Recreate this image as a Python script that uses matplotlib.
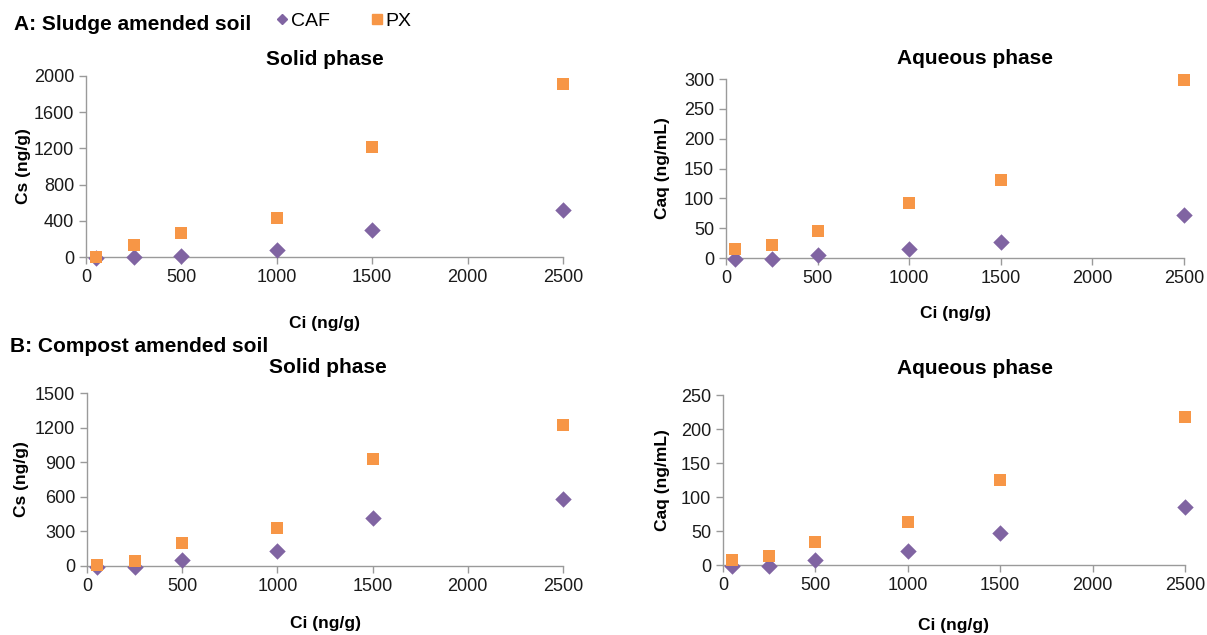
import matplotlib
matplotlib.use("Agg")
import matplotlib.pyplot as plt
from matplotlib.lines import Line2D

plt.rcParams['font.family'] = ['Liberation Sans', 'DejaVu Sans']

ci = [50, 250, 500, 1000, 1500, 2500]

# A: Sludge amended soil
a_solid_caf = [-8, -5, 8, 80, 300, 515]
a_solid_px = [2, 133, 265, 435, 1215, 1915]
a_aq_caf = [-1, -1, 5, 15, 27, 72]
a_aq_px = [15, 21, 46, 93, 130, 298]

# B: Compost amended soil
b_solid_caf = [-10, -5, 55, 130, 415, 585]
b_solid_px = [5, 40, 200, 330, 930, 1225]
b_aq_caf = [-1, -1, 8, 20, 47, 86]
b_aq_px = [7, 13, 34, 63, 125, 218]

series_names = ["CAF", "PX"]
caf_color = "#8064A2"
px_color = "#F79646"
spine_color = "#9A9A9A"

W, H = 1207, 635
fig = plt.figure(figsize=(W / 100, H / 100), dpi=100)


def px_axes(left, top, right, bottom):
    return fig.add_axes([left / W, 1 - bottom / H, (right - left) / W, (bottom - top) / H])


panels = [
    # (box, caf, px, ylim, yticks, ylabel, title, title_x, title_pad, xlabel_pad, ylabel_pad)
    ((86, 76, 563, 257), a_solid_caf, a_solid_px, (0, 2000), range(0, 2001, 400),
     "Cs (ng/g)", "Solid phase", 0.5, 8, 21.5, 2),
    ((726, 79, 1184, 258), a_aq_caf, a_aq_px, (0, 300), range(0, 301, 50),
     "Caq (ng/mL)", "Aqueous phase", 0.544, 11, 14, 10),
    ((87, 393, 563, 566), b_solid_caf, b_solid_px, (0, 1500), range(0, 1501, 300),
     "Cs (ng/g)", "Solid phase", 0.506, 14.5, 15, 4),
    ((723, 395, 1185, 565), b_aq_caf, b_aq_px, (0, 250), range(0, 251, 50),
     "Caq (ng/mL)", "Aqueous phase", 0.545, 15, 17.5, 8),
]

for box, caf, pxv, ylim, yticks, ylabel, title, tx, tpad, xpad, ypad in panels:
    ax = px_axes(*box)
    ax.scatter(ci, caf, marker="D", s=70, color=caf_color, zorder=3, clip_on=False, linewidths=0)
    ax.scatter(ci, pxv, marker="s", s=85, color=px_color, zorder=3, clip_on=False, linewidths=0)
    ax.set_xlim(0, 2500)
    ax.set_ylim(*ylim)
    ax.set_xticks(range(0, 2501, 500))
    ax.set_yticks(list(yticks))
    for s in ("top", "right"):
        ax.spines[s].set_visible(False)
    for s in ("left", "bottom"):
        ax.spines[s].set_color(spine_color)
        ax.spines[s].set_linewidth(1.0)
    ax.tick_params(axis="both", colors=spine_color, labelcolor="#1a1a1a",
                   labelsize=13, length=5, width=1.0, direction="out")
    ax.set_ylabel(ylabel, fontsize=12.5, fontweight="bold", labelpad=ypad)
    ax.set_xlabel("Ci (ng/g)", fontsize=12.5, fontweight="bold", labelpad=xpad)
    ax.set_title(title, fontsize=15, fontweight="bold", pad=tpad, x=tx)

fig.text(14 / W, 1 - 25 / H, "A: Sludge amended soil", fontsize=15, fontweight="bold",
         ha="left", va="center")
fig.text(10 / W, 1 - 347 / H, "B: Compost amended soil", fontsize=15, fontweight="bold",
         ha="left", va="center")

handles = [
    Line2D([], [], marker="D", linestyle="none", color=caf_color, markersize=5.5),
    Line2D([], [], marker="s", linestyle="none", color=px_color, markersize=6.5),
]
fig.legend(handles, series_names, loc="center left", bbox_to_anchor=(278 / W, 1 - 21 / H),
           ncol=2, frameon=False, fontsize=14, handlelength=0.45, handletextpad=0.2,
           columnspacing=2.2, borderaxespad=0, borderpad=0)

fig.savefig("out.png", dpi=100)
